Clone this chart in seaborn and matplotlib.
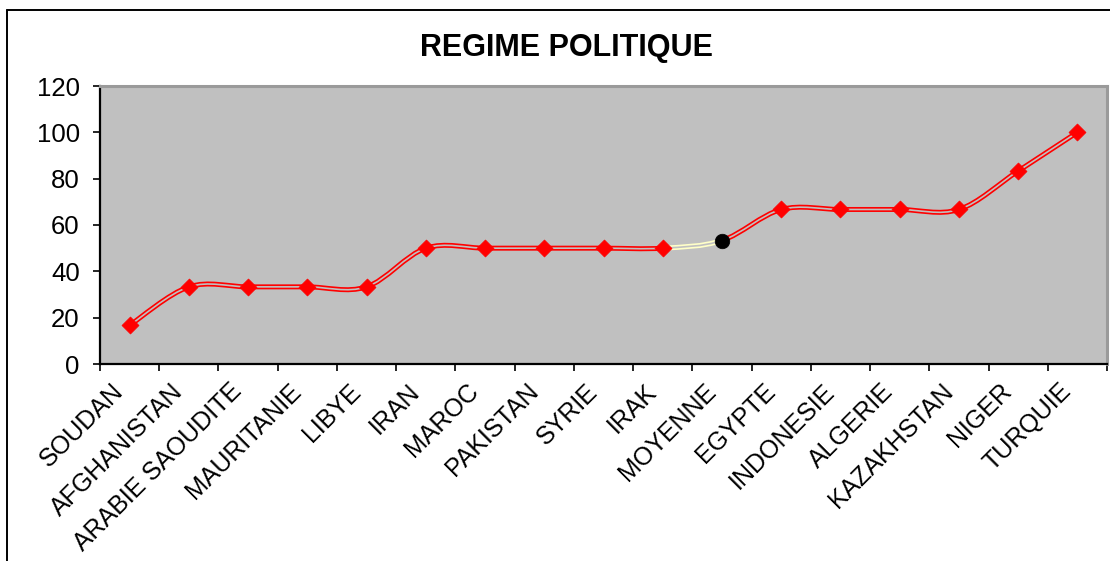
import numpy as np
import pandas as pd
import matplotlib
matplotlib.use("Agg")
import matplotlib.pyplot as plt
import matplotlib.transforms as mtransforms
import seaborn as sns
from matplotlib.path import Path
from matplotlib.patches import PathPatch
from matplotlib.lines import Line2D

countries = ["SOUDAN", "AFGHANISTAN", "ARABIE SAOUDITE", "MAURITANIE", "LIBYE",
             "IRAN", "MAROC", "PAKISTAN", "SYRIE", "IRAK", "MOYENNE", "EGYPTE",
             "INDONESIE", "ALGERIE", "KAZAKHSTAN", "NIGER", "TURQUIE"]
values = [16.7, 33.3, 33.3, 33.3, 33.3, 50, 50, 50, 50, 50, 53.3,
          66.7, 66.7, 66.7, 66.7, 83.3, 100]
title = "REGIME POLITIQUE"
yticks = [0, 20, 40, 60, 80, 100, 120]
highlight = "MOYENNE"

sns.set_theme(style="white")
plt.rcParams['font.family'] = ['Liberation Sans', 'DejaVu Sans']
plt.rcParams['text.color'] = 'black'
plt.rcParams['xtick.color'] = 'black'
plt.rcParams['ytick.color'] = 'black'
plt.rcParams['xtick.labelcolor'] = 'black'
plt.rcParams['ytick.labelcolor'] = 'black'

df = pd.DataFrame({"pays": countries, "valeur": values})
df["x"] = np.arange(len(df))

fig = plt.figure(figsize=(11.10, 5.61), dpi=100)
ax = fig.add_axes([100/1110, 1-364/561, 1007/1110, 278/561])
ax.set_facecolor("#C0C0C0")

# smoothed double line (Excel-like smoothing via cubic Bezier segments)
xs = df["x"].to_numpy(dtype=float)
ys = df["valeur"].to_numpy(dtype=float)
n = len(xs)
hi = countries.index(highlight)
for i in range(n - 1):
    p0 = np.array([xs[max(i-1, 0)], ys[max(i-1, 0)]])
    p1 = np.array([xs[i], ys[i]])
    p2 = np.array([xs[i+1], ys[i+1]])
    p3 = np.array([xs[min(i+2, n-1)], ys[min(i+2, n-1)]])
    c1 = p1 + (p2 - p0) / 6.0
    c2 = p2 - (p3 - p1) / 6.0
    path = Path([p1, c1, c2, p2], [Path.MOVETO, Path.CURVE4, Path.CURVE4, Path.CURVE4])
    outer = "#FFFFC8" if i == hi - 1 else "#FF0000"
    ax.add_patch(PathPatch(path, facecolor="none", edgecolor=outer, lw=3.6,
                           capstyle="butt", zorder=2))
    ax.add_patch(PathPatch(path, facecolor="none", edgecolor="#C0C0C0", lw=1.2,
                           capstyle="butt", zorder=2.1))

normal = df[df["pays"] != highlight]
special = df[df["pays"] == highlight]
sns.scatterplot(data=normal, x="x", y="valeur", marker="D", s=75, color="#FF0000",
                edgecolor="#FF0000", linewidth=0.5, ax=ax, zorder=3)
sns.scatterplot(data=special, x="x", y="valeur", marker="o", s=110, color="black",
                edgecolor="black", linewidth=0.5, ax=ax, zorder=3)

ax.set_xlim(-0.5, n - 0.5)
ax.set_ylim(0, 120)
ax.set_yticks(yticks)
ax.set_yticklabels([str(v) for v in yticks], fontsize=18.5)
ax.set_xticks(np.arange(n))
ax.set_xticks(np.arange(n + 1) - 0.5, minor=True)
ax.tick_params(axis="x", which="major", length=0, pad=17)
ax.tick_params(axis="x", which="minor", length=5, width=1.2, color="black",
               direction="out", bottom=True)
ax.tick_params(axis="y", length=5, width=1.2, color="black", direction="out",
               left=True, pad=9.5)
ax.set_xticklabels(countries, fontsize=18, rotation=45, ha="right",
                   va="center", rotation_mode="anchor")
shift = mtransforms.ScaledTranslation(-10/100, 0, fig.dpi_scale_trans)
for lab in ax.get_xticklabels():
    lab.set_transform(lab.get_transform() + shift)
ax.set_xlabel("")
ax.set_ylabel("")
ax.grid(False)
for side in ["left", "bottom"]:
    ax.spines[side].set_color("black")
    ax.spines[side].set_linewidth(1.6)
for side in ["top", "right"]:
    ax.spines[side].set_color("#9A9A9A")
    ax.spines[side].set_linewidth(2.2)

fig.text(566/1110, 1-48/561, title, fontsize=22, fontweight="bold",
         ha="center", va="center", color="black")

# outer chart frame (clipped at right and bottom)
fig.add_artist(Line2D([7/1110, 7/1110], [-0.01, 1-10/561], color="black",
                      lw=1.4, transform=fig.transFigure))
fig.add_artist(Line2D([7/1110, 1.01], [1-10/561, 1-10/561], color="black",
                      lw=1.4, transform=fig.transFigure))

fig.savefig("out.png", dpi=100)
